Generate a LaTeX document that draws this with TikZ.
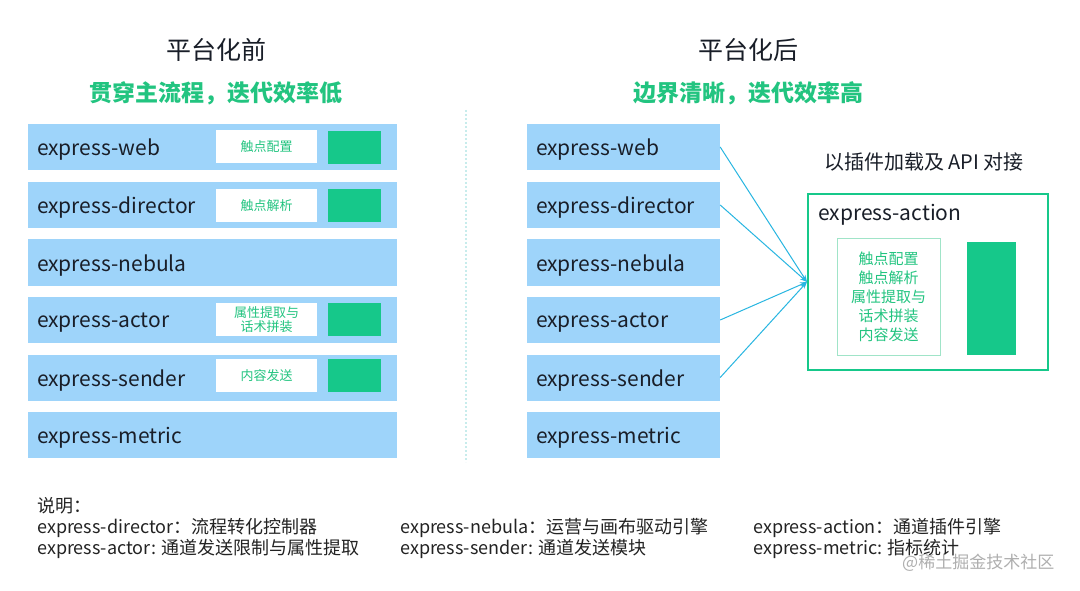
\documentclass[tikz,border=0pt]{standalone}
\usepackage{fontspec}
\setmainfont{Noto Sans CJK SC}
\usetikzlibrary{arrows.meta}
\definecolor{boxblue}{RGB}{158,212,250}
\definecolor{mgreen}{RGB}{22,200,138}
\definecolor{tgreen}{RGB}{34,196,128}
\definecolor{lineblue}{RGB}{40,182,225}
\definecolor{dtext}{RGB}{25,30,40}
\definecolor{legtext}{RGB}{35,35,35}
\definecolor{innerline}{RGB}{160,228,200}
\definecolor{divline}{RGB}{200,236,236}
\definecolor{wmark}{RGB}{175,175,175}
\begin{document}
\begin{tikzpicture}[x=1pt,y=-1pt,
  modbox/.style={fill=boxblue, minimum height=46pt, inner sep=0pt},
  leftbox/.style={modbox, minimum width=369pt},
  rightbox/.style={modbox, minimum width=193pt},
  modlabel/.style={anchor=west, font=\fontsize{21}{24}\selectfont, text=dtext, inner sep=0pt},
  tagbox/.style={fill=white, minimum width=101pt, minimum height=33pt, inner sep=0pt, font=\fontsize{13}{14}\selectfont, text=tgreen, align=center},
  greensq/.style={fill=mgreen, minimum width=53pt, minimum height=33pt, inner sep=0pt},
  link/.style={draw=lineblue, line width=1pt, -{Stealth[length=7pt,width=5pt]}},
  title/.style={font=\fontsize{25}{28}\selectfont, text=dtext, inner sep=0pt},
  subtitle/.style={font=\bfseries\fontsize{23}{27}\selectfont, text=tgreen, inner sep=0pt},
  legend/.style={anchor=west, font=\fontsize{18}{21}\selectfont, text=legtext, inner sep=0pt}
]
\useasboundingbox[fill=white] (0,0) rectangle (1080,591);

% titles
\node[title] (t1) at (216,50) {平台化前};
\node[subtitle] (s1) at (216,93) {贯穿主流程，迭代效率低};
\node[title] (t2) at (748,50) {平台化后};
\node[subtitle] (s2) at (748,93) {边界清晰，迭代效率高};

% divider
\draw[divline, line width=1.2pt, dash pattern=on 2pt off 2pt] (466,110) coordinate (d1) -- (466,462) coordinate (d2);

% left column
\node[leftbox] (lweb) at (212.5,147) {};
\node[leftbox] (ldir) at (212.5,205) {};
\node[leftbox] (lneb) at (212.5,262.5) {};
\node[leftbox] (lact) at (212.5,320) {};
\node[leftbox] (lsen) at (212.5,377.5) {};
\node[leftbox] (lmet) at (212.5,435) {};
\foreach \n/\t in {lweb/express-web, ldir/express-director, lneb/express-nebula, lact/express-actor, lsen/express-sender, lmet/express-metric}
  \node[modlabel] (\n-l) at ([xshift=9pt,yshift=-3pt]\n.west) {\t};

\node[tagbox] (tweb) at (266.5,147) {触点配置};
\node[greensq] (gweb) at (354.5,148) {};
\node[tagbox] (tdir) at (266.5,206) {触点解析};
\node[greensq] (gdir) at (354.5,206) {};
\node[tagbox] (tact) at (266.5,319.5) {属性提取与\\话术拼装};
\node[greensq] (gact) at (354.5,319.5) {};
\node[tagbox] (tsen) at (266.5,375.5) {内容发送};
\node[greensq] (gsen) at (354.5,375.5) {};

% right column
\node[rightbox] (rweb) at (623.5,147) {};
\node[rightbox] (rdir) at (623.5,205) {};
\node[rightbox] (rneb) at (623.5,262.5) {};
\node[rightbox] (ract) at (623.5,320) {};
\node[rightbox] (rsen) at (623.5,377.5) {};
\node[rightbox] (rmet) at (623.5,435) {};
\foreach \n/\t in {rweb/express-web, rdir/express-director, rneb/express-nebula, ract/express-actor, rsen/express-sender, rmet/express-metric}
  \node[modlabel] (\n-l) at ([xshift=9pt,yshift=-3pt]\n.west) {\t};

% action block
\node[font=\fontsize{20}{22}\selectfont, text=dtext, inner sep=0pt] (plug) at (924,162) {以插件加载及 API 对接};
\node[draw=mgreen, line width=2pt, fill=white, minimum width=240pt, minimum height=176pt, inner sep=0pt] (action) at (928,282) {};
\node[modlabel] (action-l) at (818,215) {express-action};
\node[draw=innerline, line width=0.8pt, minimum width=103pt, minimum height=117pt, inner sep=0pt, font=\fontsize{15}{19}\selectfont, text=tgreen, align=center] (inner) at (888.5,296.5) {触点配置\\触点解析\\属性提取与\\话术拼装\\内容发送};
\node[fill=mgreen, minimum width=49pt, minimum height=113pt, inner sep=0pt] (bar) at (991.5,298.5) {};

% links
\foreach \n in {rweb, rdir, ract, rsen}
  \draw[link] (\n.east) -- (action.west);

% legend
\node[legend] (lg0) at (37,506) {说明：};
\node[legend] (lg1) at (37,528) {express-director：流程转化控制器};
\node[legend] (lg2) at (37,549) {express-actor: 通道发送限制与属性提取};
\node[legend] (lg3) at (400,528) {express-nebula：运营与画布驱动引擎};
\node[legend] (lg4) at (400,549) {express-sender: 通道发送模块};
\node[legend] (lg5) at (753,528) {express-action：通道插件引擎};
\node[legend] (lg6) at (753,549) {express-metric: 指标统计};
\node[anchor=west, font=\fontsize{17}{20}\selectfont, text=wmark, inner sep=0pt] (wm) at (902,563) {@稀土掘金技术社区};
\end{tikzpicture}
\end{document}
